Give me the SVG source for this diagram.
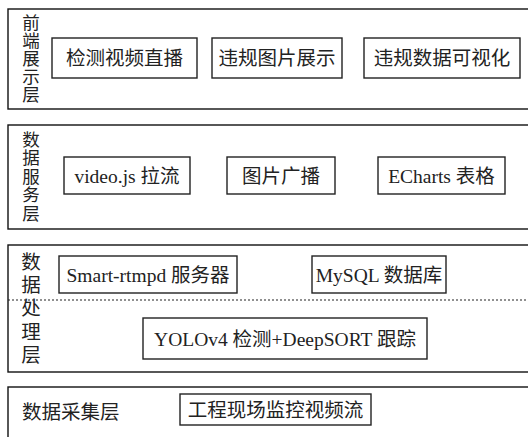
<svg xmlns="http://www.w3.org/2000/svg" width="528" height="437" viewBox="0 0 528 437">
<style>
.layer{fill:none;stroke:#111;stroke-width:1.4}
.box{fill:#fff;stroke:#222;stroke-width:1.4}
text{font-family:"Liberation Serif","Noto Sans CJK SC",serif;font-size:19.5px;fill:#222}
.c{text-anchor:middle}
.v{text-anchor:middle;font-size:17.5px}
.dot{stroke:#222;stroke-width:1.2;stroke-dasharray:2 2;fill:none}
</style>
<rect width="528" height="437" fill="#fff"/>
<g id="layer-frontend">
<rect class="layer" x="8" y="9" width="530" height="100"/>
<text class="v" x="31" y="28.5">前</text>
<text class="v" x="31" y="46.5">端</text>
<text class="v" x="31" y="64.5">展</text>
<text class="v" x="31" y="82.5">示</text>
<text class="v" x="31" y="100.5">层</text>
</g>
<g id="node-live"><rect class="box" x="52" y="38" width="145" height="40"/><text class="c" x="124.5" y="65">检测视频直播</text></g>
<g id="node-pic"><rect class="box" x="212" y="38" width="130" height="40"/><text class="c" x="277" y="65">违规图片展示</text></g>
<g id="node-vis"><rect class="box" x="364" y="38" width="156" height="40"/><text class="c" x="442" y="65">违规数据可视化</text></g>

<g id="layer-service">
<rect class="layer" x="8" y="125" width="530" height="104"/>
<text class="v" x="31" y="145.5">数</text>
<text class="v" x="31" y="164">据</text>
<text class="v" x="31" y="182.5">服</text>
<text class="v" x="31" y="201">务</text>
<text class="v" x="31" y="219.5">层</text>
</g>
<g id="node-videojs"><rect class="box" x="64" y="157" width="126" height="37"/><text class="c" x="127" y="183">video.js 拉流</text></g>
<g id="node-broadcast"><rect class="box" x="227" y="157" width="108" height="37"/><text class="c" x="281" y="183">图片广播</text></g>
<g id="node-echarts"><rect class="box" x="378" y="157" width="127" height="37"/><text class="c" x="441.5" y="183">ECharts 表格</text></g>

<g id="layer-process">
<rect class="layer" x="8" y="245" width="530" height="127"/>
<text class="c" x="31" y="269">数</text>
<text class="c" x="31" y="292">据</text>
<text class="c" x="31" y="315">处</text>
<text class="c" x="31" y="339">理</text>
<text class="c" x="31" y="362">层</text>
<line class="dot" x1="8" y1="300" x2="528" y2="300"/>
</g>
<g id="node-rtmpd"><rect class="box" x="59" y="256" width="178" height="37"/><text class="c" x="148" y="281.5">Smart-rtmpd 服务器</text></g>
<g id="node-mysql"><rect class="box" x="312" y="256" width="134" height="37"/><text class="c" x="379" y="281.5">MySQL 数据库</text></g>
<g id="node-yolo"><rect class="box" x="143" y="318" width="284" height="41"/><text class="c" x="285" y="345.5">YOLOv4 检测+DeepSORT 跟踪</text></g>

<g id="layer-collect">
<rect class="layer" x="8" y="387" width="530" height="60"/>
<text x="22" y="419">数据采集层</text>
</g>
<g id="node-stream"><rect class="box" x="180" y="394" width="191" height="31"/><text class="c" x="275.5" y="416.5">工程现场监控视频流</text></g>
<g id="connectors"></g>
</svg>
